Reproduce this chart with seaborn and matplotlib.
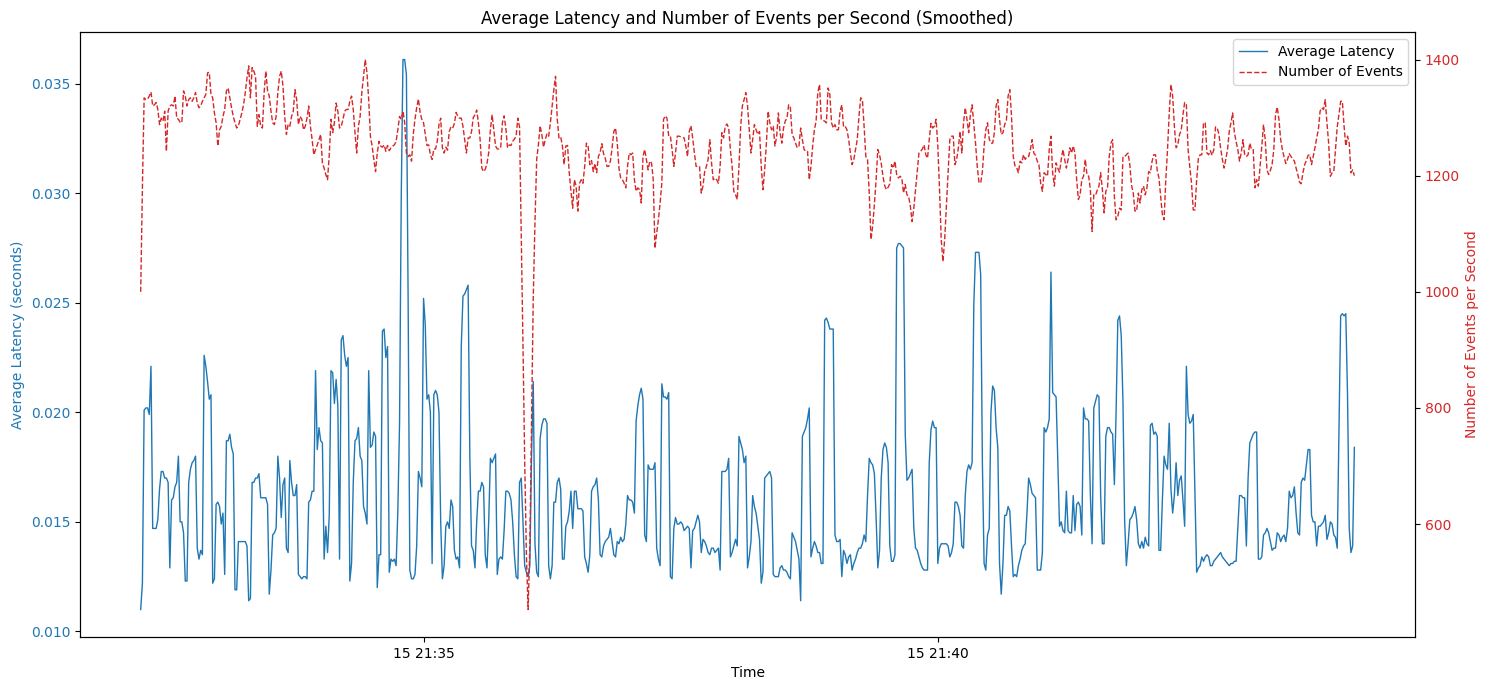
import matplotlib
matplotlib.use("Agg")
import matplotlib.pyplot as plt
import pandas as pd
import seaborn as sns

# one smoothed sample per second
start_time = "2024-05-15 21:32:15"

avg_latency = [
    0.0110, 0.0122, 0.0201, 0.0202, 0.0202, 0.0199, 0.0221, 0.0147, 0.0147, 0.0147,
    0.0151, 0.0165, 0.0173, 0.0173, 0.0170, 0.0170, 0.0168, 0.0129, 0.0160, 0.0161,
    0.0166, 0.0168, 0.0180, 0.0150, 0.0150, 0.0145, 0.0123, 0.0123, 0.0168, 0.0174,
    0.0177, 0.0178, 0.0180, 0.0138, 0.0133, 0.0137, 0.0135, 0.0226, 0.0221, 0.0214,
    0.0206, 0.0208, 0.0122, 0.0124, 0.0158, 0.0159, 0.0157, 0.0149, 0.0154, 0.0126,
    0.0187, 0.0187, 0.0190, 0.0184, 0.0181, 0.0119, 0.0119, 0.0141, 0.0141, 0.0141,
    0.0141, 0.0141, 0.0139, 0.0114, 0.0115, 0.0168, 0.0168, 0.0170, 0.0170, 0.0172,
    0.0161, 0.0161, 0.0161, 0.0161, 0.0158, 0.0117, 0.0128, 0.0144, 0.0145, 0.0147,
    0.0180, 0.0170, 0.0152, 0.0167, 0.0170, 0.0138, 0.0136, 0.0178, 0.0168, 0.0162,
    0.0162, 0.0167, 0.0126, 0.0125, 0.0124, 0.0125, 0.0125, 0.0124, 0.0159, 0.0160,
    0.0164, 0.0164, 0.0219, 0.0183, 0.0193, 0.0187, 0.0186, 0.0133, 0.0148, 0.0136,
    0.0153, 0.0219, 0.0218, 0.0204, 0.0215, 0.0203, 0.0133, 0.0233, 0.0235, 0.0226,
    0.0221, 0.0225, 0.0123, 0.0131, 0.0168, 0.0187, 0.0188, 0.0193, 0.0180, 0.0178,
    0.0157, 0.0154, 0.0149, 0.0219, 0.0184, 0.0185, 0.0191, 0.0189, 0.0120, 0.0135,
    0.0135,
    0.0237, 0.0238, 0.0225, 0.0230, 0.0127, 0.0133, 0.0132, 0.0133, 0.0130, 0.0155,
    0.0195, 0.0299, 0.0361, 0.0361, 0.0354, 0.0252, 0.0128, 0.0124, 0.0124, 0.0126,
    0.0139, 0.0173, 0.0170, 0.0166, 0.0252, 0.0240, 0.0206, 0.0208, 0.0200, 0.0131,
    0.0208, 0.0210, 0.0208, 0.0200, 0.0150, 0.0124, 0.0130, 0.0148, 0.0150, 0.0147,
    0.0160, 0.0157, 0.0137, 0.0133, 0.0134, 0.0129, 0.0230, 0.0253, 0.0254, 0.0256,
    0.0258, 0.0180, 0.0139, 0.0137, 0.0129, 0.0150, 0.0164, 0.0164, 0.0168, 0.0166,
    0.0135, 0.0129, 0.0150, 0.0179, 0.0177, 0.0179, 0.0181, 0.0126, 0.0133, 0.0134,
    0.0133, 0.0146, 0.0164, 0.0164, 0.0163, 0.0160, 0.0150, 0.0135, 0.0125, 0.0124,
    0.0168, 0.0170, 0.0150, 0.0130, 0.0127, 0.0125, 0.0130, 0.0180, 0.0214, 0.0140,
    0.0127, 0.0125, 0.0188, 0.0194, 0.0197, 0.0197, 0.0195, 0.0130, 0.0124, 0.0130,
    0.0159, 0.0159, 0.0168, 0.0170, 0.0165, 0.0133, 0.0133, 0.0148, 0.0150, 0.0155,
    0.0164, 0.0147, 0.0164, 0.0164, 0.0156, 0.0156, 0.0156, 0.0155, 0.0134, 0.0131,
    0.0127, 0.0135, 0.0164, 0.0166, 0.0167, 0.0170, 0.0160, 0.0135, 0.0134, 0.0139,
    0.0141, 0.0142, 0.0143, 0.0147, 0.0141, 0.0135, 0.0134, 0.0141, 0.0140, 0.0143,
    0.0141, 0.0142, 0.0149,
    0.0162, 0.0160, 0.0160, 0.0159, 0.0154, 0.0196, 0.0203, 0.0208, 0.0211, 0.0206,
    0.0144, 0.0141, 0.0176, 0.0174, 0.0174, 0.0174, 0.0177, 0.0138, 0.0133, 0.0130,
    0.0213, 0.0207, 0.0207, 0.0206, 0.0209, 0.0125, 0.0124, 0.0147, 0.0152, 0.0149,
    0.0149, 0.0150, 0.0149, 0.0146, 0.0147, 0.0148, 0.0147, 0.0129, 0.0146, 0.0147,
    0.0150, 0.0153, 0.0150, 0.0136, 0.0142, 0.0141, 0.0139, 0.0136, 0.0135, 0.0138,
    0.0138, 0.0136, 0.0137, 0.0138, 0.0128, 0.0173, 0.0173, 0.0173, 0.0174, 0.0179,
    0.0134, 0.0136, 0.0139, 0.0142, 0.0139, 0.0189, 0.0186, 0.0183, 0.0177, 0.0180,
    0.0129, 0.0134, 0.0141, 0.0162, 0.0157, 0.0154, 0.0148, 0.0142, 0.0122, 0.0127,
    0.0170, 0.0171, 0.0172, 0.0173, 0.0170, 0.0126, 0.0125, 0.0125, 0.0125, 0.0129,
    0.0130, 0.0128, 0.0128, 0.0127, 0.0125, 0.0124, 0.0145, 0.0143, 0.0141, 0.0137,
    0.0133, 0.0114, 0.0189, 0.0191, 0.0193, 0.0197, 0.0202, 0.0134, 0.0138, 0.0141,
    0.0139, 0.0136, 0.0136, 0.0131, 0.0131, 0.0242, 0.0243, 0.0241, 0.0238, 0.0238,
    0.0238, 0.0144, 0.0141, 0.0141, 0.0142, 0.0125, 0.0137, 0.0135, 0.0131, 0.0134,
    0.0135, 0.0128, 0.0131, 0.0133, 0.0136, 0.0138, 0.0138, 0.0140, 0.0144, 0.0141,
    0.0162, 0.0179, 0.0177, 0.0176, 0.0172,
    0.0152, 0.0129, 0.0137, 0.0170, 0.0183, 0.0186, 0.0184, 0.0177, 0.0139, 0.0132,
    0.0132, 0.0135, 0.0275, 0.0277, 0.0277, 0.0276, 0.0275, 0.0190, 0.0169, 0.0170,
    0.0172, 0.0174, 0.0147, 0.0138, 0.0137, 0.0134, 0.0131, 0.0129, 0.0128, 0.0128,
    0.0128, 0.0177, 0.0192, 0.0196, 0.0193, 0.0193, 0.0131, 0.0138, 0.0140, 0.0140,
    0.0140, 0.0140, 0.0139, 0.0134, 0.0136, 0.0140, 0.0159, 0.0159, 0.0157, 0.0153,
    0.0139, 0.0138, 0.0162, 0.0173, 0.0176, 0.0174, 0.0177, 0.0249, 0.0273, 0.0273,
    0.0273, 0.0263, 0.0177, 0.0131, 0.0128, 0.0144, 0.0147, 0.0200, 0.0212, 0.0210,
    0.0193, 0.0184, 0.0131, 0.0117, 0.0131, 0.0153, 0.0153, 0.0157, 0.0155, 0.0139,
    0.0125, 0.0126, 0.0125, 0.0130, 0.0133, 0.0137, 0.0139, 0.0140, 0.0154, 0.0170,
    0.0167, 0.0163, 0.0162, 0.0161, 0.0128, 0.0128, 0.0128, 0.0136, 0.0193, 0.0191,
    0.0193, 0.0197, 0.0264, 0.0209, 0.0208, 0.0207, 0.0177, 0.0148, 0.0150, 0.0146,
    0.0145, 0.0164, 0.0146, 0.0145, 0.0145, 0.0162, 0.0146, 0.0158, 0.0159, 0.0157,
    0.0144, 0.0202, 0.0197, 0.0197, 0.0196, 0.0162, 0.0140, 0.0202, 0.0205, 0.0208,
    0.0207, 0.0162, 0.0140, 0.0140, 0.0189, 0.0193, 0.0193, 0.0191, 0.0190, 0.0167,
    0.0200, 0.0242, 0.0244, 0.0235, 0.0205,
    0.0150, 0.0130, 0.0140, 0.0151, 0.0152, 0.0154, 0.0157, 0.0151, 0.0140, 0.0138,
    0.0141, 0.0138, 0.0143, 0.0140, 0.0139, 0.0194, 0.0195, 0.0190, 0.0191, 0.0189,
    0.0137, 0.0137, 0.0160, 0.0180, 0.0176, 0.0174, 0.0195, 0.0165, 0.0154, 0.0162,
    0.0177, 0.0162, 0.0169, 0.0171, 0.0160, 0.0148, 0.0221, 0.0199, 0.0195, 0.0196,
    0.0199, 0.0163, 0.0127, 0.0129, 0.0130, 0.0134, 0.0132, 0.0134, 0.0135, 0.0134,
    0.0130, 0.0130, 0.0132, 0.0133, 0.0134, 0.0135, 0.0136, 0.0134, 0.0133, 0.0132,
    0.0131, 0.0130, 0.0131, 0.0131, 0.0132, 0.0132, 0.0147, 0.0162, 0.0162, 0.0161,
    0.0161, 0.0139, 0.0170, 0.0186, 0.0188, 0.0190, 0.0191, 0.0191, 0.0133, 0.0133,
    0.0134, 0.0144, 0.0145, 0.0147, 0.0145, 0.0141, 0.0137, 0.0138, 0.0138, 0.0145,
    0.0144, 0.0141, 0.0143, 0.0144, 0.0141, 0.0147, 0.0164, 0.0161, 0.0162, 0.0166,
    0.0154, 0.0145, 0.0144, 0.0168, 0.0170, 0.0169, 0.0176, 0.0183, 0.0183, 0.0153,
    0.0150, 0.0150, 0.0139, 0.0148, 0.0148, 0.0149, 0.0150, 0.0153, 0.0142, 0.0145,
    0.0150, 0.0149, 0.0144, 0.0143, 0.0138, 0.0192, 0.0244, 0.0245, 0.0244, 0.0245,
    0.0208, 0.0147, 0.0136, 0.0139, 0.0184,
]

events_per_sec = [
    1000, 1180, 1334, 1331, 1332, 1337, 1344, 1320, 1322, 1326,
    1314, 1288, 1299, 1294, 1311, 1242, 1311, 1320, 1322, 1320,
    1337, 1299, 1297, 1292, 1291, 1346, 1337, 1320, 1331, 1334,
    1328, 1334, 1343, 1325, 1317, 1320, 1328, 1334, 1340, 1377,
    1378, 1340, 1334, 1308, 1291, 1251, 1279, 1285, 1302, 1314,
    1346, 1351, 1334, 1317, 1302, 1291, 1282, 1286, 1297, 1308,
    1322, 1343, 1368, 1389, 1334, 1386, 1380, 1371, 1285, 1305,
    1285, 1282, 1343, 1380, 1346, 1337, 1311, 1291, 1288, 1302,
    1343, 1371, 1380, 1354, 1302, 1271, 1288, 1285, 1302, 1311,
    1348, 1331, 1288, 1302, 1297, 1279, 1285, 1299, 1320, 1285,
    1262, 1236, 1245, 1253, 1262, 1271, 1222, 1213, 1202, 1193,
    1236, 1297, 1274, 1291, 1325, 1311, 1282, 1285, 1297, 1311,
    1314, 1314, 1328, 1337, 1314, 1274, 1239, 1285, 1302, 1343,
    1371, 1400, 1377, 1331, 1268, 1251, 1228, 1207, 1239, 1259,
    1251,
    1249, 1253, 1242, 1252, 1243, 1248, 1251, 1253, 1259, 1279,
    1302, 1297, 1311, 1291, 1239, 1233, 1236, 1225, 1271, 1297,
    1317, 1332, 1309, 1297, 1291, 1271, 1252, 1253, 1236, 1228,
    1246, 1246, 1259, 1288, 1299, 1248, 1239, 1249, 1244, 1276,
    1284, 1282, 1290, 1309, 1302, 1299, 1299, 1285, 1262, 1239,
    1265, 1265, 1276, 1300, 1305, 1313, 1291, 1262, 1213, 1207,
    1211, 1221, 1239, 1279, 1305, 1279, 1251, 1246, 1246, 1248,
    1291, 1303, 1282, 1248, 1253, 1252, 1259, 1263, 1268, 1299,
    1284, 1100, 910, 710, 548, 453, 560, 780, 990, 1120,
    1228, 1253, 1286, 1271, 1249, 1262, 1272, 1268, 1291, 1320,
    1348, 1371, 1297, 1265, 1267, 1251, 1219, 1251, 1252, 1205,
    1173, 1144, 1193, 1182, 1139, 1187, 1193, 1187, 1216, 1256,
    1251, 1219, 1226, 1207, 1221, 1205, 1233, 1240, 1255, 1238,
    1230, 1216, 1216, 1225, 1248, 1276, 1282, 1256, 1213, 1196,
    1193, 1187, 1179,
    1216, 1239, 1236, 1239, 1193, 1173, 1179, 1176, 1153, 1233,
    1245, 1228, 1210, 1225, 1222, 1193, 1075, 1101, 1124, 1153,
    1187, 1297, 1303, 1299, 1268, 1268, 1245, 1216, 1239, 1268,
    1268, 1267, 1266, 1265, 1251, 1233, 1276, 1286, 1265, 1239,
    1216, 1216, 1216, 1170, 1182, 1207, 1216, 1228, 1262, 1222,
    1193, 1196, 1193, 1187, 1216, 1274, 1265, 1285, 1289, 1282,
    1245, 1216, 1173, 1167, 1159, 1216, 1285, 1320, 1331, 1343,
    1320, 1279, 1239, 1262, 1288, 1279, 1271, 1276, 1216, 1176,
    1210, 1256, 1311, 1291, 1279, 1285, 1251, 1268, 1308, 1274,
    1256, 1282, 1294, 1299, 1322, 1317, 1271, 1265, 1256, 1248,
    1251, 1282, 1262, 1245, 1242, 1242, 1193, 1216, 1251, 1279,
    1294, 1343, 1357, 1297, 1295, 1294, 1291, 1351, 1340, 1291,
    1282, 1288, 1279, 1279, 1311, 1322, 1284, 1285, 1279, 1262,
    1239, 1219, 1228, 1245, 1262, 1302, 1334, 1331, 1285, 1233,
    1228, 1170, 1090, 1113, 1150,
    1193, 1245, 1236, 1221, 1199, 1183, 1176, 1180, 1186, 1219,
    1213, 1225, 1202, 1196, 1199, 1196, 1170, 1185, 1167, 1164,
    1147, 1121, 1144, 1176, 1210, 1239, 1242, 1246, 1253, 1236,
    1230, 1262, 1290, 1282, 1285, 1297, 1251, 1176, 1090, 1052,
    1090, 1147, 1205, 1262, 1268, 1268, 1219, 1228, 1248, 1276,
    1239, 1291, 1317, 1297, 1274, 1305, 1322, 1288, 1256, 1216,
    1189, 1187, 1207, 1251, 1279, 1291, 1263, 1256, 1256, 1274,
    1320, 1331, 1297, 1271, 1274, 1288, 1295, 1337, 1348, 1302,
    1233, 1217, 1214, 1205, 1225, 1222, 1236, 1228, 1233, 1233,
    1245, 1262, 1239, 1235, 1225, 1219, 1187, 1173, 1205, 1202,
    1199, 1245, 1268, 1205, 1182, 1222, 1213, 1206, 1228, 1245,
    1228, 1213, 1228, 1248, 1239, 1251, 1239, 1193, 1159, 1167,
    1193, 1199, 1228, 1202, 1199, 1176, 1104, 1167, 1166, 1175,
    1182, 1205, 1176, 1136, 1173, 1179, 1233, 1256, 1262, 1164,
    1124, 1130, 1144, 1141, 1233,
    1233, 1236, 1239, 1219, 1184, 1170, 1139, 1139, 1170, 1153,
    1176, 1182, 1167, 1179, 1207, 1205, 1225, 1236, 1236, 1209,
    1196, 1164, 1133, 1124, 1193, 1245, 1308, 1357, 1337, 1285,
    1248, 1253, 1271, 1278, 1305, 1326, 1322, 1245, 1215, 1187,
    1141, 1141, 1193, 1230, 1236, 1236, 1291, 1291, 1239, 1236,
    1243, 1235, 1245, 1284, 1282, 1271, 1247, 1228, 1213, 1228,
    1245, 1276, 1291, 1308, 1274, 1259, 1245, 1225, 1239, 1262,
    1236, 1233, 1236, 1256, 1245, 1245, 1179, 1193, 1182, 1216,
    1251, 1288, 1262, 1210, 1202, 1209, 1219, 1245, 1305, 1318,
    1297, 1262, 1245, 1232, 1221, 1228, 1238, 1233, 1229, 1225,
    1213, 1202, 1189, 1186, 1205, 1219, 1226, 1235, 1236, 1219,
    1233, 1248, 1265, 1279, 1311, 1317, 1314, 1331, 1291, 1256,
    1199, 1205, 1207, 1245, 1284, 1305, 1328, 1328, 1285, 1251,
    1268, 1256, 1205, 1210, 1200,
]

times = pd.date_range(start_time, periods=len(avg_latency), freq="s")
df = pd.DataFrame({"Time": times, "latency": avg_latency, "events": events_per_sec})

fig, ax1 = plt.subplots(figsize=(14.9, 6.9), dpi=100)

sns.lineplot(data=df, x="Time", y="latency", ax=ax1, color="tab:blue",
             linewidth=1, label="Average Latency", legend=False)
ax1.set_xlabel("Time")
ax1.set_ylabel("Average Latency (seconds)", color="tab:blue")
ax1.tick_params(axis="y", labelcolor="tab:blue")

ax2 = ax1.twinx()
sns.lineplot(data=df, x="Time", y="events", ax=ax2, color="tab:red",
             linewidth=1, linestyle="--", label="Number of Events", legend=False)
ax2.set_ylabel("Number of Events per Second", color="tab:red")
ax2.tick_params(axis="y", labelcolor="tab:red")

lines = ax1.get_lines() + ax2.get_lines()
ax2.legend(lines, [l.get_label() for l in lines], loc="upper right")

ax1.set_title("Average Latency and Number of Events per Second (Smoothed)")
fig.subplots_adjust(left=0.0537, right=0.9497, top=0.9536, bottom=0.0768)
fig.savefig("out.png", dpi=100)
